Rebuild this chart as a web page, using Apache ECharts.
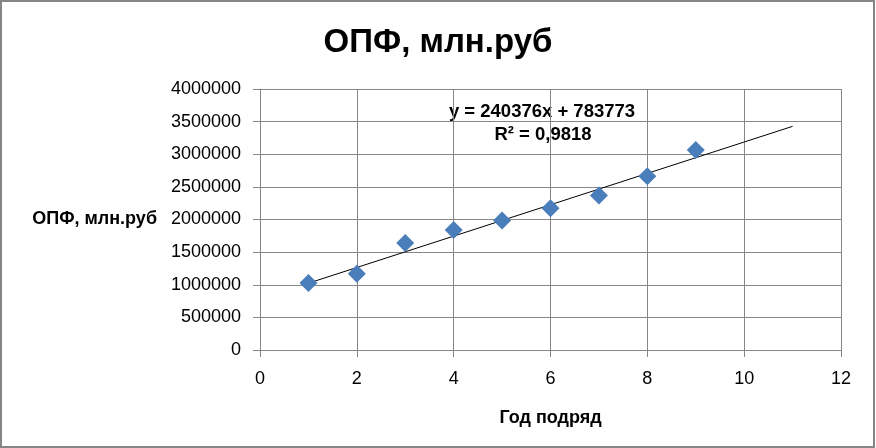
<!DOCTYPE html>
<html>
<head>
<meta charset="utf-8">
<script src="https://cdn.jsdelivr.net/npm/echarts@6/dist/echarts.min.js"></script>
<style>
html,body{margin:0;padding:0;background:#fff;}
#chart{width:876px;height:448px;}
</style>
</head>
<body>
<div id="chart"></div>
<script>
var titleText = 'ОПФ, млн.руб';
var xName = 'Год подряд';
var yName = 'ОПФ, млн.руб';
var years = [1, 2, 3, 4, 5, 6, 7, 8, 9];
var opf = [1025000, 1170000, 1640000, 1840000, 1985000, 2172000, 2368000, 2662000, 3066000];
var trendX = [1, 11];
var trendY = [1024149, 3427909];
var equationText = 'y = 240376x + 783773';
var r2Text = 'R² = 0,9818';

var FONT = '"Liberation Sans", Arial, sans-serif';
var chart = echarts.init(document.getElementById('chart'));
var grey = '#868686';

chart.setOption({
  animation: false,
  backgroundColor: '#fff',
  title: {
    text: titleText,
    left: 'center',
    top: 21,
    textStyle: {fontFamily: FONT, fontSize: 33, fontWeight: 'bold', color: '#000'}
  },
  grid: {left: 260, right: 35, top: 89, bottom: 98, containLabel: false},
  xAxis: {
    type: 'value',
    min: 0, max: 12, interval: 2,
    name: xName,
    nameLocation: 'middle',
    nameGap: 59,
    nameTextStyle: {fontFamily: FONT, fontSize: 18, fontWeight: 'bold', color: '#000'},
    axisLine: {show: true, lineStyle: {color: grey, width: 1}},
    axisTick: {show: true, length: 7, inside: false, lineStyle: {color: grey}},
    axisLabel: {fontFamily: FONT, fontSize: 18, color: '#000', margin: 20},
    splitLine: {show: true, lineStyle: {color: grey, width: 1}}
  },
  yAxis: {
    type: 'value',
    min: 0, max: 4000000, interval: 500000,
    name: yName,
    nameLocation: 'middle',
    nameRotate: 0,
    nameGap: 103,
    nameTextStyle: {fontFamily: FONT, fontSize: 18, fontWeight: 'bold', color: '#000', align: 'right', verticalAlign: 'middle'},
    axisLine: {show: true, lineStyle: {color: grey, width: 1}},
    axisTick: {show: true, length: 7, inside: false, lineStyle: {color: grey}},
    axisLabel: {fontFamily: FONT, fontSize: 18, color: '#000', margin: 19, formatter: function (v) { return String(v); }},
    splitLine: {show: true, lineStyle: {color: grey, width: 1}}
  },
  series: [
    {
      type: 'line',
      data: trendX.map(function (x, i) { return [x, trendY[i]]; }),
      showSymbol: false,
      symbol: 'none',
      lineStyle: {color: '#000', width: 1},
      z: 2
    },
    {
      type: 'scatter',
      data: years.map(function (x, i) { return [x, opf[i]]; }),
      symbol: 'diamond',
      symbolSize: [18, 18],
      itemStyle: {color: '#4A7EBB', opacity: 1},
      z: 3
    }
  ],
  graphic: [
    {
      type: 'text',
      x: 542, y: 112,
      style: {text: equationText, fontFamily: FONT, fontSize: 18.5, fontWeight: 'bold', fill: '#000', align: 'center', verticalAlign: 'middle'}
    },
    {
      type: 'text',
      x: 543, y: 135,
      style: {text: r2Text, fontFamily: FONT, fontSize: 18.5, fontWeight: 'bold', fill: '#000', align: 'center', verticalAlign: 'middle'}
    },
    {
      type: 'rect',
      shape: {x: 1, y: 1, width: 873, height: 446},
      style: {fill: 'none', stroke: grey, lineWidth: 2},
      silent: true
    }
  ]
});
</script>
</body>
</html>
